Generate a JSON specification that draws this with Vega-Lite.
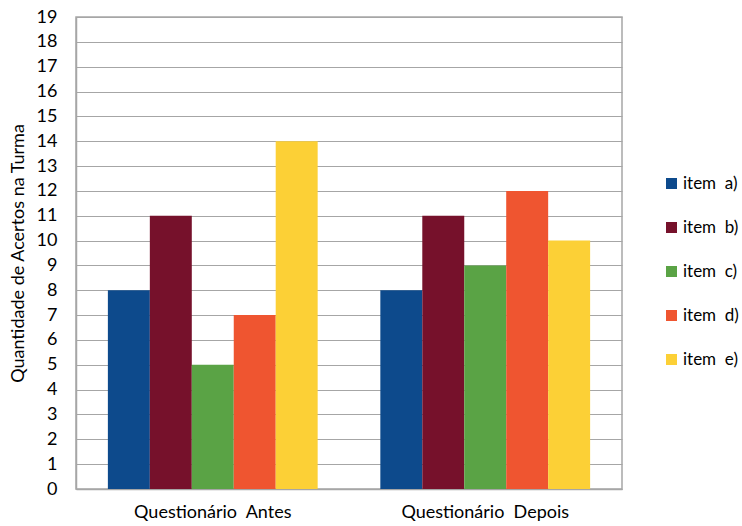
{
  "$schema": "https://vega.github.io/schema/vega-lite/v6.json",
  "width": 546,
  "height": 472,
  "autosize": {"type": "none"},
  "padding": {"left": 76, "top": 17, "right": 120, "bottom": 37},
  "background": "white",
  "config": {
    "font": "Lato",
    "view": {"stroke": "#a6a6a6", "strokeWidth": 1.5}
  },
  "data": {
    "values": [
      {"grupo": "Questionário\u00a0 Antes", "item": "item\u00a0 a)", "valor": 8},
      {"grupo": "Questionário\u00a0 Antes", "item": "item\u00a0 b)", "valor": 11},
      {"grupo": "Questionário\u00a0 Antes", "item": "item\u00a0 c)", "valor": 5},
      {"grupo": "Questionário\u00a0 Antes", "item": "item\u00a0 d)", "valor": 7},
      {"grupo": "Questionário\u00a0 Antes", "item": "item\u00a0 e)", "valor": 14},
      {"grupo": "Questionário\u00a0 Depois", "item": "item\u00a0 a)", "valor": 8},
      {"grupo": "Questionário\u00a0 Depois", "item": "item\u00a0 b)", "valor": 11},
      {"grupo": "Questionário\u00a0 Depois", "item": "item\u00a0 c)", "valor": 9},
      {"grupo": "Questionário\u00a0 Depois", "item": "item\u00a0 d)", "valor": 12},
      {"grupo": "Questionário\u00a0 Depois", "item": "item\u00a0 e)", "valor": 10}
    ]
  },
  "mark": {"type": "bar"},
  "encoding": {
    "x": {
      "field": "grupo",
      "type": "nominal",
      "sort": null,
      "scale": {"paddingInner": 0.23, "paddingOuter": 0.117},
      "axis": {
        "title": null,
        "labelAngle": 0,
        "ticks": false,
        "labelPadding": 14,
        "labelFontSize": 18,
        "labelColor": "#000",
        "domainColor": "#a6a6a6",
        "domainWidth": 1.5
      }
    },
    "xOffset": {
      "field": "item",
      "type": "nominal",
      "sort": null,
      "scale": {"paddingInner": 0, "paddingOuter": 0}
    },
    "y": {
      "field": "valor",
      "type": "quantitative",
      "scale": {"domain": [0, 19], "nice": false},
      "axis": {
        "title": "Quantidade de Acertos na Turma",
        "titleFontSize": 18,
        "titleFontWeight": "normal",
        "titleColor": "#000",
        "titlePadding": 9,
        "values": [0,1,2,3,4,5,6,7,8,9,10,11,12,13,14,15,16,17,18,19],
        "ticks": false,
        "labelPadding": 19,
        "labelFontSize": 18,
        "labelColor": "#000",
        "gridColor": "#a6a6a6",
        "gridWidth": 1.2,
        "gridOpacity": 1,
        "domainColor": "#a6a6a6",
        "domainWidth": 1.5
      }
    },
    "color": {
      "field": "item",
      "type": "nominal",
      "sort": null,
      "scale": {
        "domain": ["item\u00a0 a)", "item\u00a0 b)", "item\u00a0 c)", "item\u00a0 d)", "item\u00a0 e)"],
        "range": ["#0d4a8c", "#76112b", "#5aa345", "#ef5530", "#fcd036"]
      },
      "legend": {
        "title": null,
        "orient": "none",
        "legendX": 587,
        "legendY": 158,
        "symbolType": "square",
        "symbolSize": 121,
        "symbolStrokeWidth": 0,
        "labelFontSize": 17,
        "labelColor": "#000",
        "labelOffset": 3,
        "labelLimit": 200,
        "rowPadding": 26
      }
    }
  }
}
